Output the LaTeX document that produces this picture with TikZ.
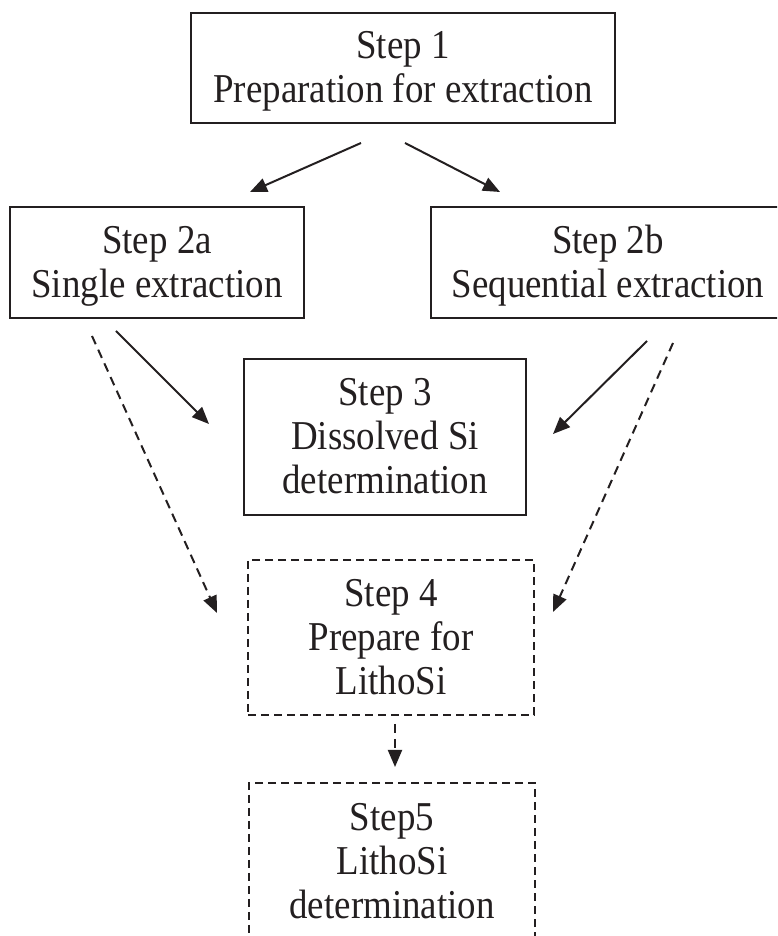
\documentclass[tikz,border=0pt]{standalone}
\usepackage{fontspec}
\setmainfont{Liberation Serif}[FakeStretch=0.9]
\usetikzlibrary{arrows.meta}
\definecolor{ink}{RGB}{35,31,32}
\newcommand{\stepbody}[1]{\raisebox{-4pt}[\height][\depth]{\begin{tabular}{@{}c@{}}#1\end{tabular}}}
\begin{document}
\begin{tikzpicture}[x=1pt,y=1pt,
  box/.style={draw=ink, line width=2pt, inner sep=0pt, text=ink, font=\fontsize{41}{44}\selectfont},
  dbox/.style={box, dash pattern=on 8pt off 5pt},
  arr/.style={draw=ink, line width=2pt, -{Triangle[length=17pt,width=14pt]}},
  darr/.style={arr, dash pattern=on 9pt off 6pt}]
\useasboundingbox (0,0) rectangle (777,936);
\clip (0,0) rectangle (777,936);
\node[box, minimum width=424pt, minimum height=110pt] (s1) at (403,868) {\stepbody{Step 1\\Preparation for extraction}};
\node[box, minimum width=294pt, minimum height=111pt] (s2a) at (157,673.5) {\stepbody{Step 2a\\Single extraction}};
\node[box, minimum width=354pt, minimum height=111pt] (s2b) at (608,673.5) {\stepbody{Step 2b\\Sequential extraction}};
\node[box, minimum width=282pt, minimum height=156pt] (s3) at (385,499) {\stepbody{Step 3\\Dissolved Si\\determination}};
\node[dbox, minimum width=286pt, minimum height=155pt] (s4) at (391,298.5) {\stepbody{Step 4\\Prepare for\\LithoSi}};
\node[dbox, minimum width=286pt, minimum height=157pt] (s5) at (392,74.5) {\stepbody{Step5\\LithoSi\\determination}};
\draw[arr] ([shift={(-42,-19)}]s1.south) -- ([shift={(93,14)}]s2a.north);
\draw[arr] ([shift={(2,-19)}]s1.south) -- ([shift={(-108,14)}]s2b.north);
\draw[arr] ([shift={(-41,-12)}]s2a.south) -- ([shift={(-34,13)}]s3.west);
\draw[darr] ([shift={(-65,-17)}]s2a.south) -- ([shift={(-30,24.5)}]s4.west);
\draw[arr] ([shift={(39,-22)}]s2b.south) -- ([shift={(26,3)}]s3.east);
\draw[darr] ([shift={(65,-24)}]s2b.south) -- ([shift={(18,25.5)}]s4.east);
\draw[darr] ([shift={(4,-8)}]s4.south) -- ([shift={(3,15)}]s5.north);
\end{tikzpicture}
\end{document}
